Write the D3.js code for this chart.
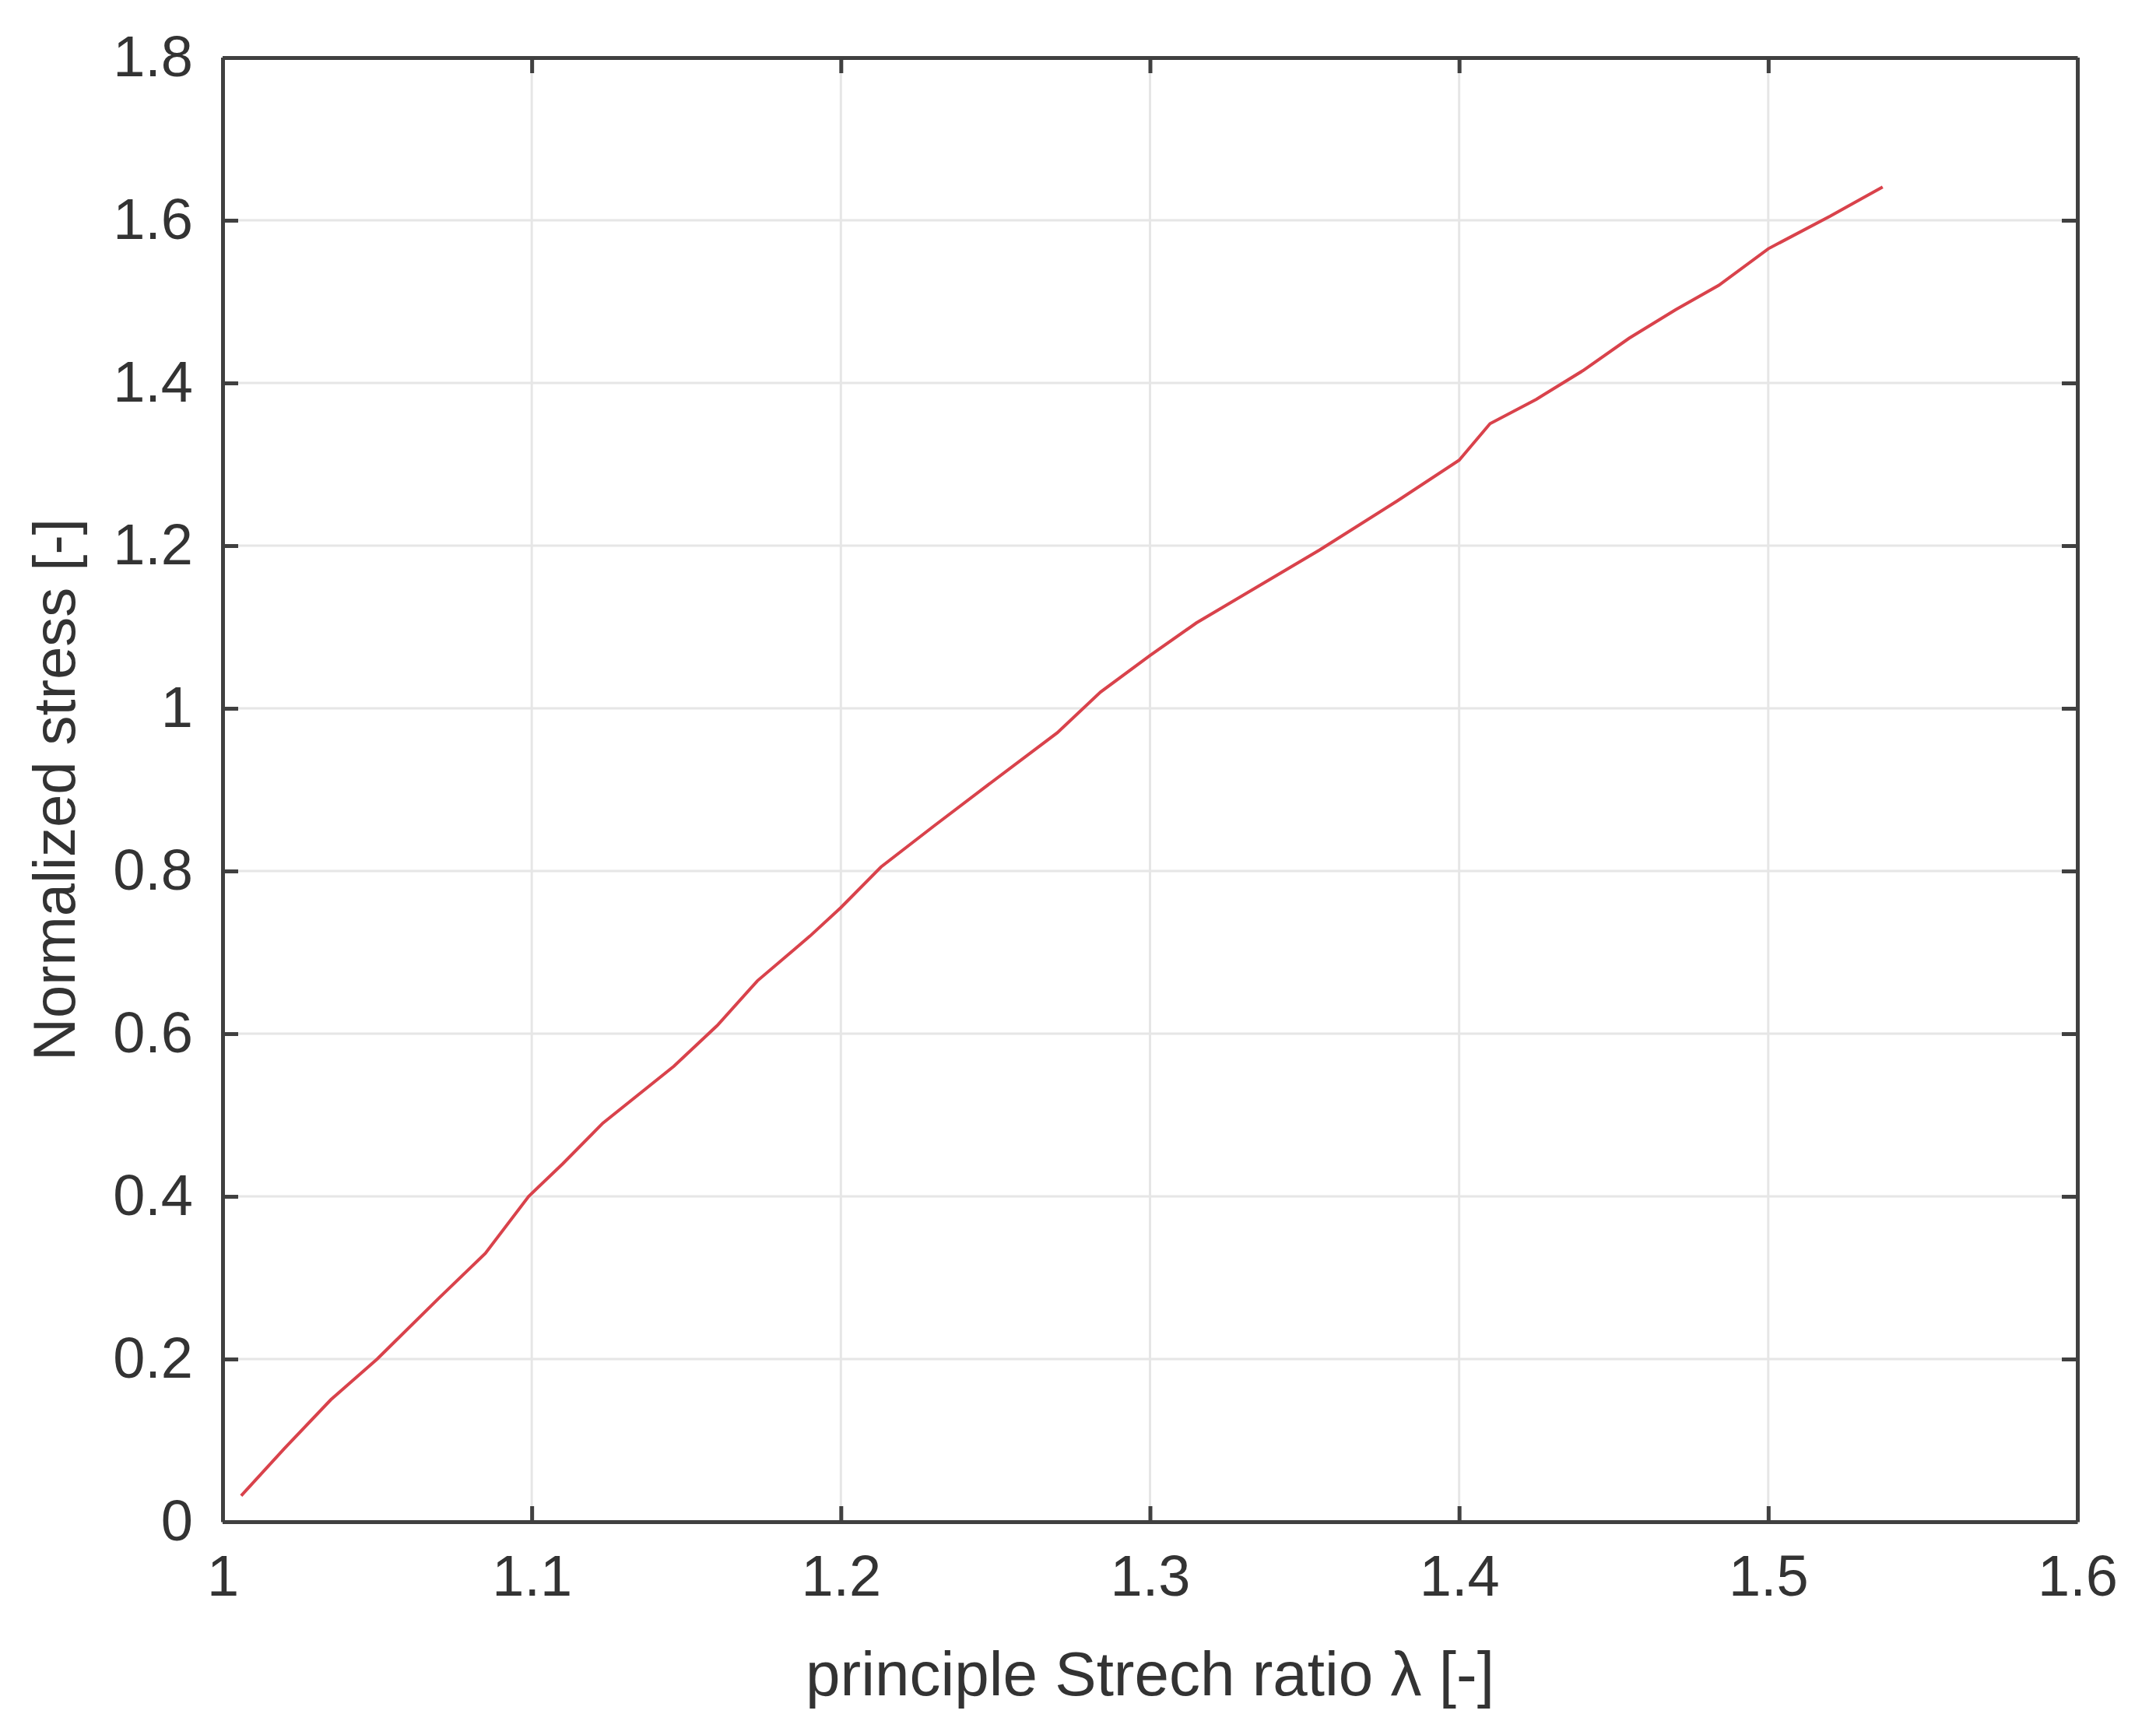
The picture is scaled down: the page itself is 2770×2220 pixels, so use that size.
<!DOCTYPE html><html><head><meta charset="utf-8">
<script src="https://cdn.jsdelivr.net/npm/d3@7"></script>
<style>body{margin:0;background:#fff}</style></head><body>
<svg id="c" width="2770" height="2220"></svg>
<script>
const stretch=[1.006,1.02,1.035,1.05,1.07,1.085,1.099,1.11,1.123,1.146,1.16,1.173,1.19,1.2,1.213,1.23,1.248,1.27,1.284,1.3,1.315,1.335,1.355,1.38,1.4,1.41,1.425,1.44,1.455,1.47,1.484,1.5,1.52,1.537];
const stress=[0.032,0.09,0.15,0.2,0.275,0.33,0.4,0.44,0.49,0.56,0.61,0.665,0.72,0.755,0.805,0.855,0.907,0.97,1.02,1.065,1.105,1.15,1.195,1.255,1.305,1.35,1.38,1.415,1.455,1.49,1.52,1.565,1.605,1.641];
const xTicks=[1,1.1,1.2,1.3,1.4,1.5,1.6];
const yTicks=[0,0.2,0.4,0.6,0.8,1,1.2,1.4,1.6,1.8];
const L=286,R=2669,T=74,B=1955;
const svg=d3.select('#c');
const x=d3.scaleLinear().domain([1,1.6]).range([L,R]);
const y=d3.scaleLinear().domain([0,1.8]).range([B,T]);
const font='"Liberation Sans",Arial,sans-serif';
svg.selectAll('.gx').data(xTicks).join('line').attr('x1',d=>x(d)).attr('x2',d=>x(d)).attr('y1',T).attr('y2',B).attr('stroke','#e6e6e6').attr('stroke-width',3);
svg.selectAll('.gy').data(yTicks).join('line').attr('y1',d=>y(d)).attr('y2',d=>y(d)).attr('x1',L).attr('x2',R).attr('stroke','#e6e6e6').attr('stroke-width',3);
svg.append('g').attr('transform',`translate(0,${B})`).call(d3.axisBottom(x).tickValues(xTicks).tickFormat(d3.format('~g')).tickSizeInner(-20).tickSizeOuter(0).tickPadding(42));
svg.append('g').attr('transform',`translate(${L},0)`).call(d3.axisLeft(y).tickValues(yTicks).tickFormat(d3.format('~g')).tickSizeInner(-20).tickSizeOuter(0).tickPadding(38));
svg.append('g').attr('transform',`translate(0,${T})`).call(d3.axisTop(x).tickValues(xTicks).tickFormat('').tickSizeInner(-20).tickSizeOuter(0));
svg.append('g').attr('transform',`translate(${R},0)`).call(d3.axisRight(y).tickValues(yTicks).tickFormat('').tickSizeInner(-20).tickSizeOuter(0));
svg.selectAll('.domain,.tick line').attr('stroke','#404040').attr('stroke-width',5);
svg.selectAll('.tick text').attr('font-family',font).attr('font-size',74).attr('fill','#333');
svg.append('path').datum(stretch.map((v,i)=>[v,stress[i]])).attr('fill','none').attr('stroke','#d9424b').attr('stroke-width',4)
 .attr('d',d3.line().x(d=>x(d[0])).y(d=>y(d[1])).curve(d3.curveLinear));
svg.append('text').attr('x',(L+R)/2).attr('y',2178).attr('text-anchor','middle').attr('font-family',font).attr('font-size',80).attr('fill','#333').text('principle Strech ratio λ [-]');
svg.append('text').attr('transform',`translate(96,${(T+B)/2}) rotate(-90)`).attr('text-anchor','middle').attr('font-family',font).attr('font-size',76).attr('fill','#333').text('Normalized stress [-]');
</script></body></html>
